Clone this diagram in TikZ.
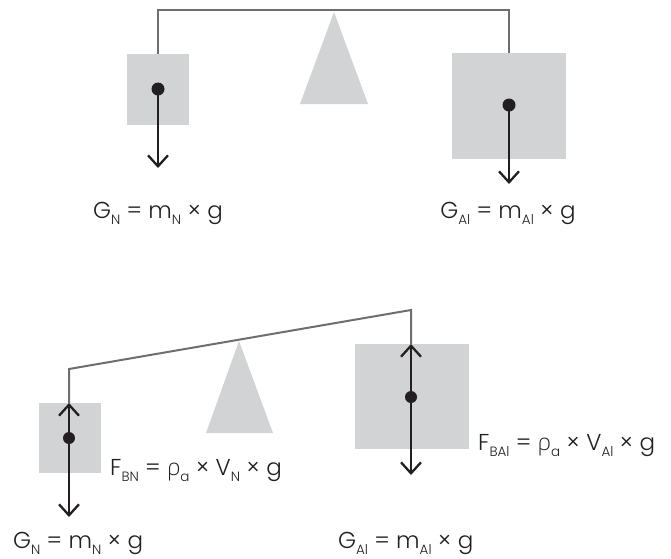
\documentclass[tikz,border=0pt]{standalone}
\usepackage{fontspec}
\setmainfont{Poppins}[UprightFont=* Light]
\newfontfamily\greekfont{Open Sans}[UprightFont=* Light]
\usetikzlibrary{arrows.meta, positioning}

\definecolor{boxgray}{HTML}{D1D3D4}
\definecolor{beamgray}{HTML}{6D6E71}
\definecolor{ink}{HTML}{231F20}

\newcommand{\sbs}[1]{\raisebox{-6.5pt}{\fontsize{13.5}{14}\selectfont #1}}
\newcommand{\rhoa}{{\greekfont ρ}}

\tikzset{
  weight/.style={fill=boxgray},
  pivot/.style={fill=boxgray},
  beam/.style={draw=beamgray, line width=2pt},
  force/.style={draw=ink, line width=2.3pt, -{Straight Barb[length=11pt, width=20pt, line width=2.3pt]}},
  formula/.style={inner sep=0pt, text=ink, font=\fontsize{23}{26}\selectfont},
}

\begin{document}
\begin{tikzpicture}[x=1pt, y=-1pt]
        \useasboundingbox (0,0) rectangle (671,558);

        % --- Balanced scale (top) ---
        \fill[pivot] (334,12) -- (368,104) -- (300,104) -- cycle;
        \fill[weight] (127,54) rectangle (189,125);
        \fill[weight] (452,53) rectangle (566,159);
        \coordinate (tl_hook) at (158,54);
        \coordinate (tr_hook) at (509,53);
        \draw[beam] (tl_hook) -- (158,10) -- (509,10) -- (tr_hook);

        \coordinate (tl_c) at (158,89);
        \coordinate (tl_g) at (158,168);
        \coordinate (tr_c) at (509,105);
        \coordinate (tr_g) at (509,184);
        \draw[force] (tl_c) -- (tl_g);
        \draw[force] (tr_c) -- (tr_g);
        \fill[ink] (tl_c) circle (6.5pt);
        \fill[ink] (tr_c) circle (6.5pt);

        \node[formula, anchor=base] (tl_lab) at (158,218)
          {G\sbs{N} = m\sbs{N} × g};
        \node[formula, anchor=base] (tr_lab) at (508,218)
          {G\sbs{Al} = m\sbs{Al} × g};

        % --- Tilted scale in air (bottom) ---
        \fill[pivot] (239,341) -- (273,433) -- (206,433) -- cycle;
        \fill[weight] (39,403) rectangle (101,473);
        \fill[weight] (355,344) rectangle (469,449);
        \coordinate (bl_hook) at (69,403);
        \coordinate (br_hook) at (411,344);
        \draw[beam] (bl_hook) -- (69,369) -- (411,310) -- (br_hook);

        \coordinate (bl_c) at (69,438);
        \coordinate (bl_g) at (69,517);
        \coordinate (br_c) at (411,397);
        \coordinate (br_g) at (411,475);
        \draw[force] (bl_c) -- (bl_hook);
        \draw[force] (bl_c) -- (bl_g);
        \draw[force] (br_c) -- (br_hook);
        \draw[force] (br_c) -- (br_g);
        \fill[ink] (bl_c) circle (6pt);
        \fill[ink] (br_c) circle (6pt);

        \node[formula, anchor=base west] (bl_lift) at (110,475)
          {F\sbs{BN} = \rhoa\sbs{a} × V\sbs{N} × g};
        \node[formula, anchor=base west] (br_lift) at (478,450)
          {F\sbs{BAl} = \rhoa\sbs{a} × V\sbs{Al} × g};
        \node[formula, anchor=base west] (bl_lab) at (13,548)
          {G\sbs{N} = m\sbs{N} × g};
        \node[formula, anchor=base west] (br_lab) at (338,548)
          {G\sbs{Al} = m\sbs{Al} × g};
\end{tikzpicture}
\end{document}
